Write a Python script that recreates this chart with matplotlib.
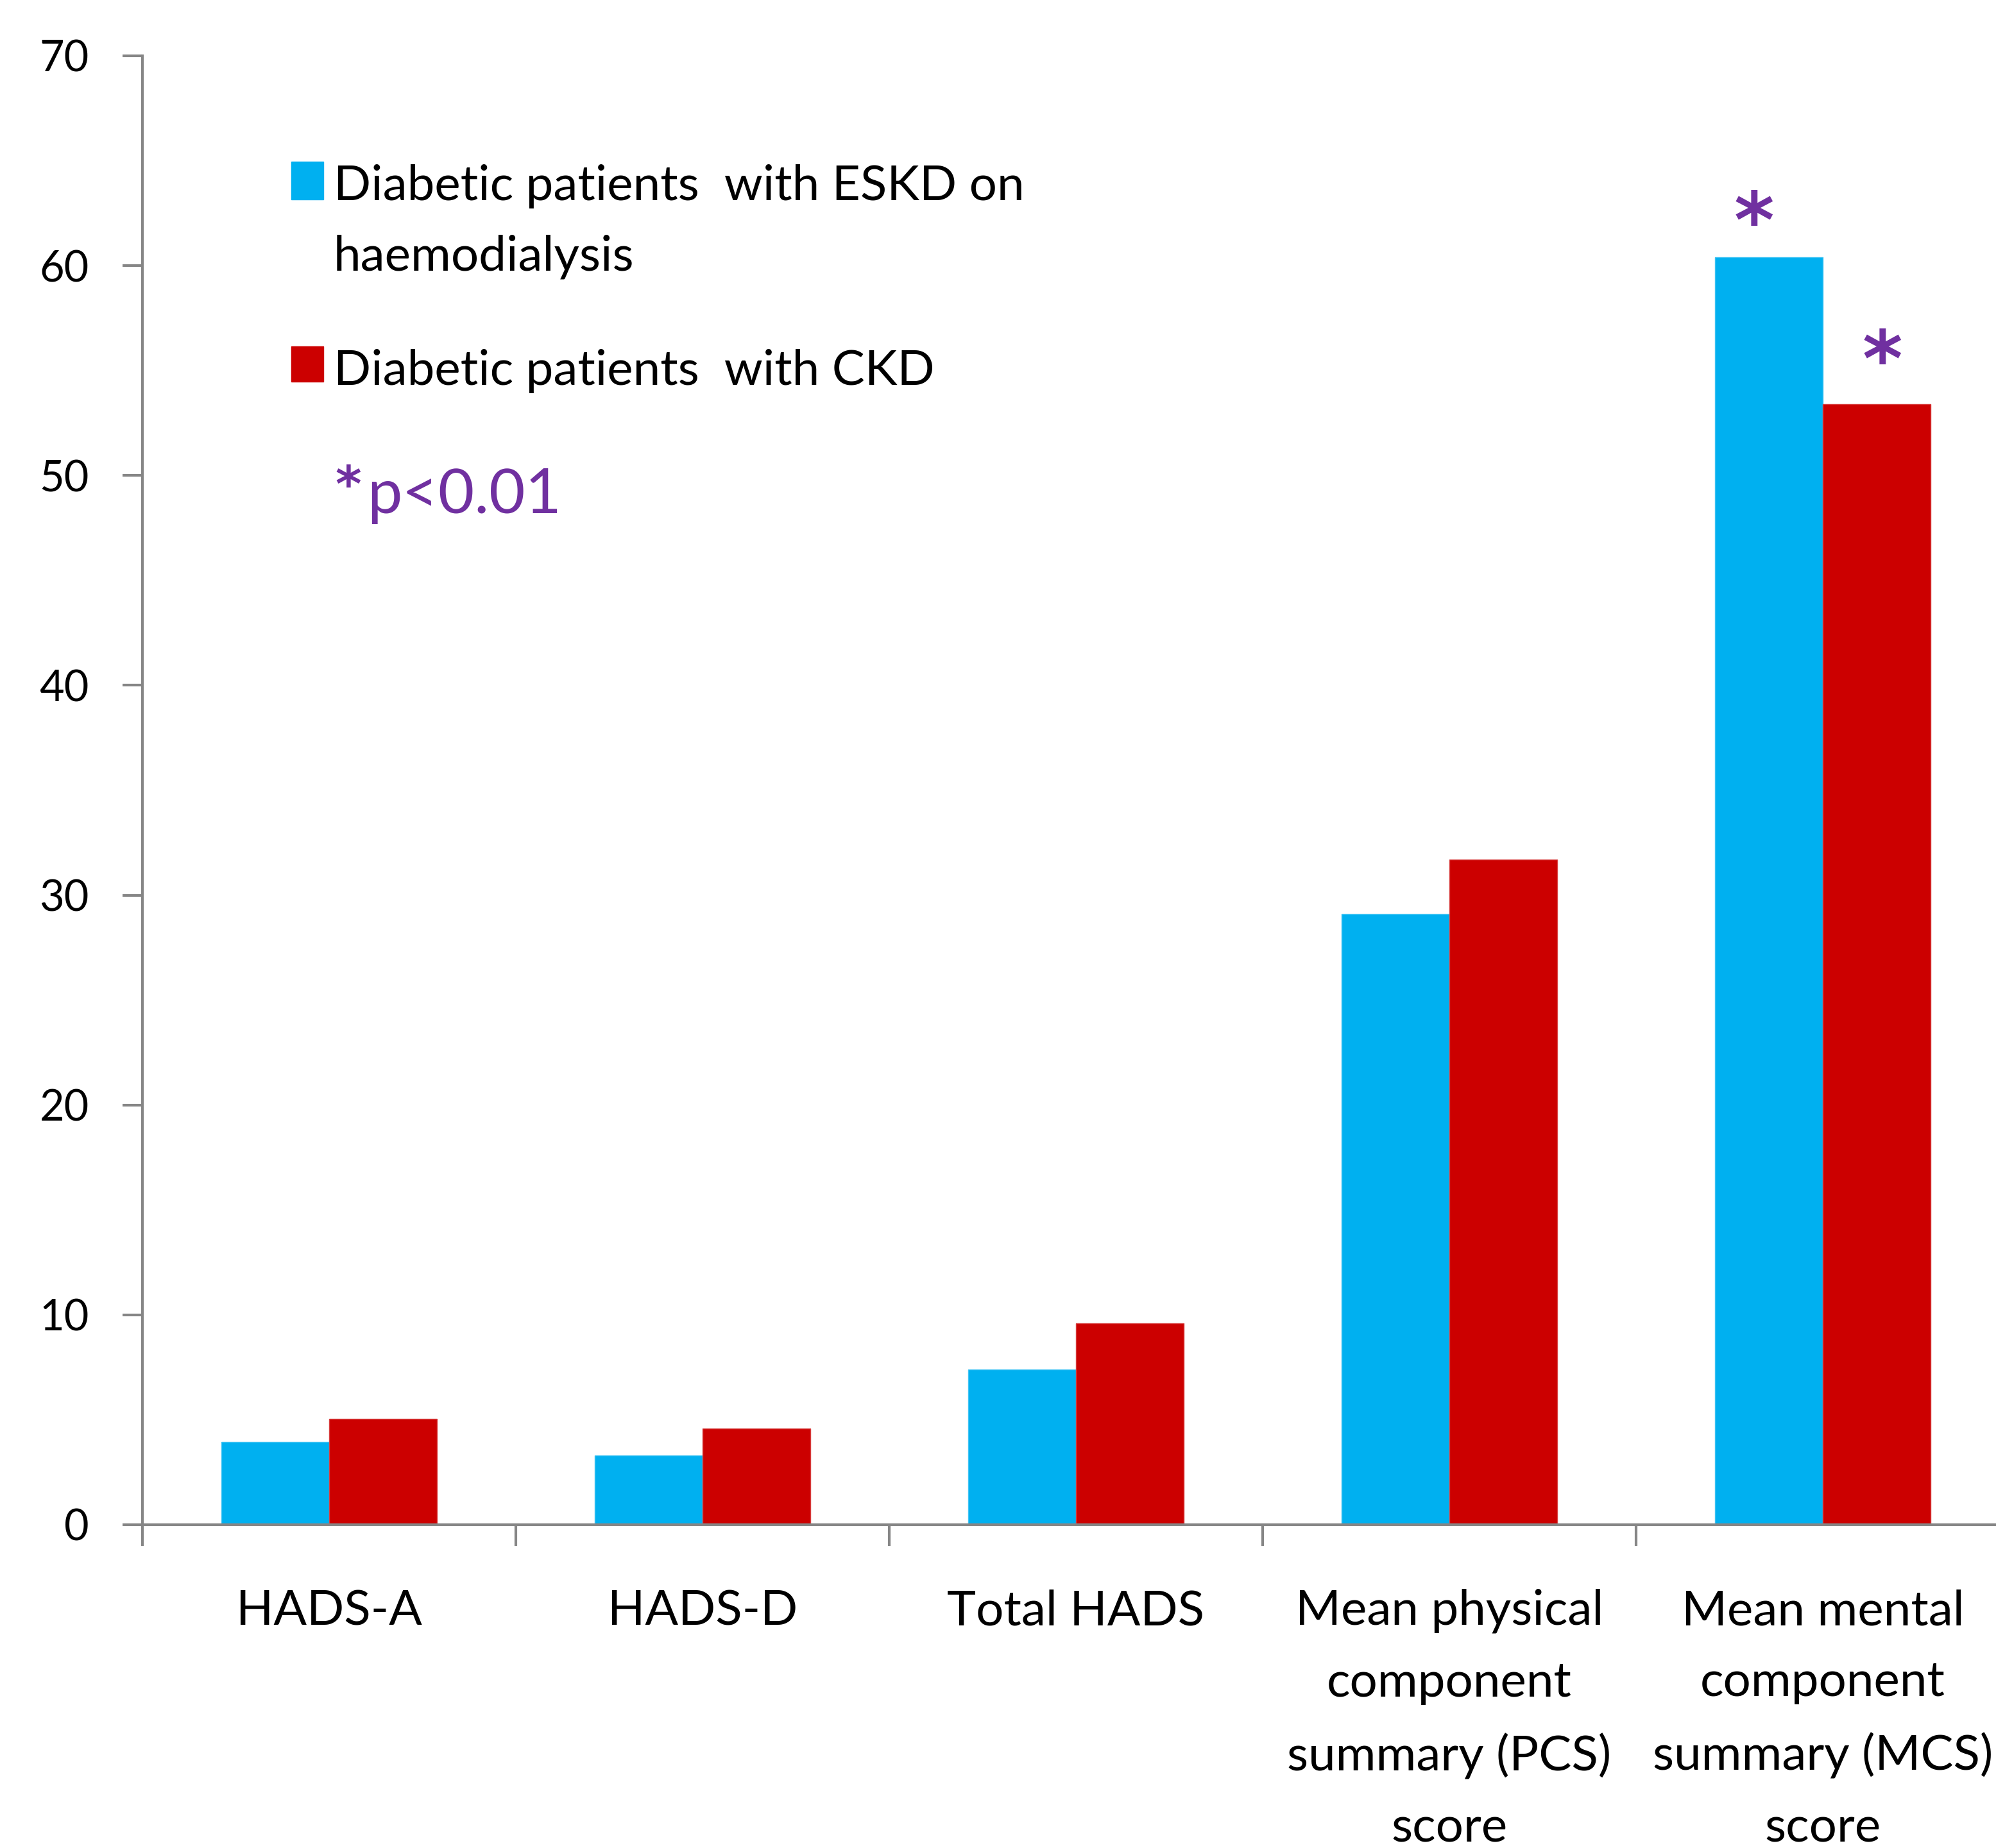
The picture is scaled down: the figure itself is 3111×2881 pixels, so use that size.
import matplotlib
matplotlib.use("Agg")
import matplotlib.pyplot as plt
from matplotlib.patches import Rectangle
import numpy as np

plt.rcParams['font.family'] = ['Lato', 'DejaVu Sans']

# Scores per measure
categories = [
    "HADS-A",
    "HADS-D",
    "Total HADS",
    "Mean physical\ncomponent\nsummary (PCS)\nscore",
    "Mean mental\ncomponent\nsummary (MCS)\nscore",
]
eskd_hd = [3.95, 3.3, 7.4, 29.1, 60.4]
ckd = [5.05, 4.6, 9.6, 31.7, 53.4]
significant = [False, False, False, False, True]

series_names = ["Diabetic patients  with ESKD on\nhaemodialysis",
                "Diabetic patients  with CKD"]
blue = "#00B0F0"
red = "#CC0000"
purple = "#7030A0"
axis_grey = "#868686"

W, H = 3111, 2881
fig = plt.figure(figsize=(W / 100, H / 100), dpi=100)
ax = fig.add_axes([222 / W, (H - 2377) / H, 2910 / W, 2290 / H])

x = np.arange(len(categories))
w = 0.289
ax.bar(x - w / 2, eskd_hd, w, color=blue, edgecolor="#40C4F4", linewidth=1)
ax.bar(x + w / 2, ckd, w, color=red, edgecolor="#D84040", linewidth=1)

# significance stars above the MCS bars
for i, sig in enumerate(significant):
    if sig:
        ax.text(x[i] - w / 2 - 0.04, eskd_hd[i] + 1.5, "*", ha="center", va="center",
                fontsize=86, color=purple, family="DejaVu Sans", fontweight="bold")
        ax.text(x[i] + w / 2 + 0.015, ckd[i] + 1.9, "*", ha="center", va="center",
                fontsize=86, color=purple, family="DejaVu Sans", fontweight="bold")

ax.set_xlim(-0.5, len(categories) - 0.5)
ax.set_ylim(0, 70)
ax.set_yticks(np.arange(0, 71, 10))
ax.tick_params(axis="y", length=22, width=3, color=axis_grey, labelsize=48, pad=38)

# boundary ticks between groups, labels at group centres
ax.set_xticks(np.arange(-0.5, len(categories) - 0.5, 1.0))
ax.set_xticklabels([])
ax.set_xticks(x, categories, minor=True)
ax.tick_params(axis="x", which="major", length=24, width=3, color=axis_grey)
ax.tick_params(axis="x", which="minor", length=0, labelsize=55, pad=72)
for lab in ax.get_xticklabels(minor=True):
    lab.set_linespacing(1.75)

for side in ["top", "right"]:
    ax.spines[side].set_visible(False)
for side in ["left", "bottom"]:
    ax.spines[side].set_color(axis_grey)
    ax.spines[side].set_linewidth(3)

# legend block drawn in figure pixels
def fy(y):
    return (H - y) / H

fig.patches.append(Rectangle((454 / W, fy(311)), 50 / W, 59 / H, color=blue,
                             transform=fig.transFigure, figure=fig))
fig.patches.append(Rectangle((454 / W, fy(595)), 50 / W, 55 / H, color=red,
                             transform=fig.transFigure, figure=fig))
fig.text(520 / W, fy(256), series_names[0], ha="left", va="top", fontsize=55,
         linespacing=1.72)
fig.text(520 / W, fy(544), series_names[1], ha="left", va="top", fontsize=55)
fig.text(522 / W, fy(722), "*", ha="left", va="top", fontsize=56, color=purple,
         family="DejaVu Sans", fontweight="bold")
fig.text(572 / W, fy(800), "p<0.01", ha="left", va="baseline", fontsize=70,
         color=purple)

fig.savefig("out.png", dpi=100, facecolor="white")
